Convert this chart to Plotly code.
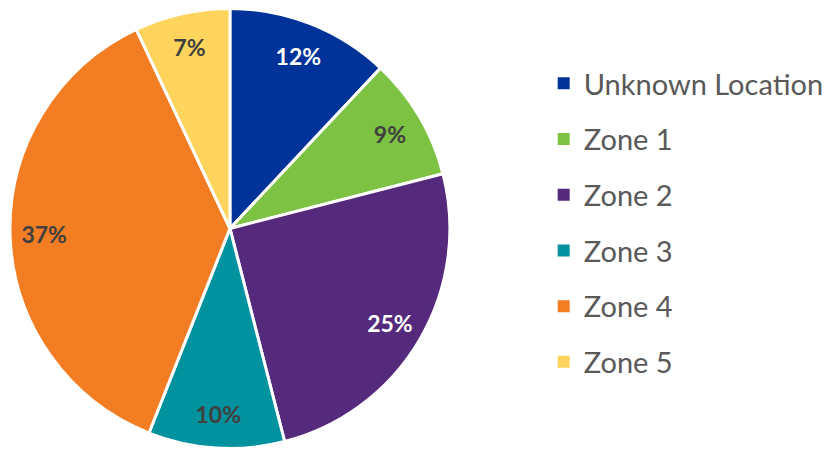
import plotly.graph_objects as go

labels = ["Unknown Location", "Zone 1", "Zone 2", "Zone 3", "Zone 4", "Zone 5"]
values = [12, 9, 25, 10, 37, 7]
colors = ["#003399", "#7DC242", "#552A7D", "#00929F", "#F37D22", "#FFD45C"]
text_colors = ["#FFFFFF", "#404040", "#FFFFFF", "#404040", "#404040", "#404040"]

W, H = 829, 449
dom = dict(x=[10 / W, 451 / W], y=[0, 1 - 8 / H])
fig = go.Figure()
# solid pie
fig.add_trace(go.Pie(
    labels=labels, values=values, sort=False, direction="clockwise", rotation=0,
    marker=dict(colors=colors, line=dict(color="white", width=3)),
    textinfo="none", showlegend=False, hoverinfo="label+percent",
    domain=dom,
))
# transparent ring carrying the percentage labels near the rim
fig.add_trace(go.Pie(
    labels=labels, values=values, sort=False, direction="clockwise", rotation=0,
    hole=0.69,
    marker=dict(colors=["rgba(0,0,0,0)"] * len(labels), line=dict(width=0)),
    texttemplate="%{percent:.0%}", textposition="inside",
    insidetextorientation="horizontal",
    insidetextfont=dict(family="Lato", size=23, color=text_colors, weight="bold"),
    showlegend=False, hoverinfo="skip",
    domain=dom,
))
for lab, col in zip(labels, colors):
    fig.add_trace(go.Scatter(
        x=[None], y=[None], mode="markers", name=lab, legendgroup=lab,
        marker=dict(symbol="square", size=13, color=col),
        showlegend=True,
    ))

fig.update_layout(
    width=W, height=H, margin=dict(l=0, r=0, t=0, b=0),
    paper_bgcolor="white", plot_bgcolor="white",
    xaxis=dict(visible=False), yaxis=dict(visible=False),
    showlegend=True,
    legend=dict(x=545 / W, y=1 - 58 / H, xanchor="left", yanchor="top",
                font=dict(family="Lato", size=29, color="#595959"),
                tracegroupgap=15, itemsizing="constant"),
)
fig.write_html("out.html", config={"displayModeBar": False},
               post_script="document.body.style.margin='0';")
